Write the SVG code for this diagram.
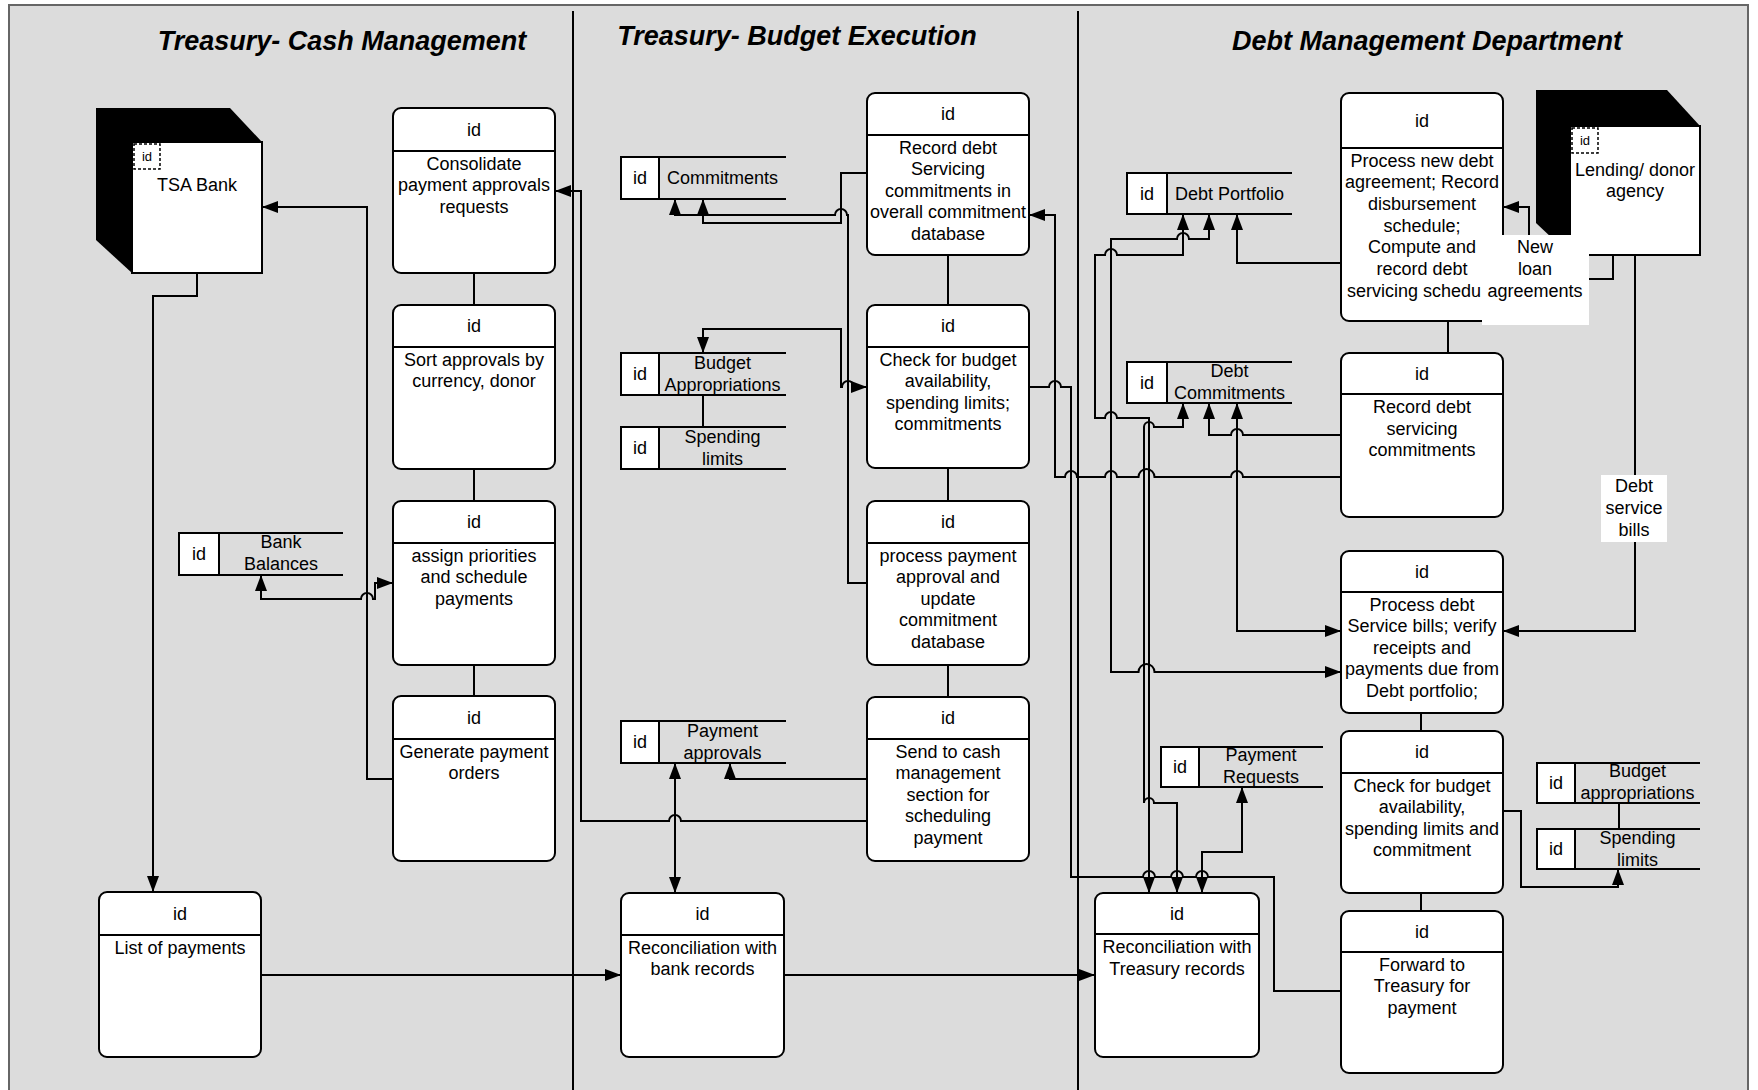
<svg xmlns="http://www.w3.org/2000/svg" width="1758" height="1090" viewBox="0 0 1758 1090">
  <style>
    .bg { fill: #ffffff; }
    .frame { fill: #dcdcdc; stroke: #666666; stroke-width: 2; }
    .lane { stroke: #000; stroke-width: 2; }
    .box { fill: #ffffff; stroke: #000; stroke-width: 2; }
    .ln { fill: none; stroke: #000; stroke-width: 2; }
    .cell { fill: #ffffff; stroke: #000; stroke-width: 2; }
    .ent { fill: #000; }
    .dash { fill: none; stroke: #000; stroke-width: 1.5; stroke-dasharray: 3 2; }
    .conn { fill: none; stroke: #000; stroke-width: 2; }
    .arr { marker-end: url(#ah); }
    .arr2 { marker-start: url(#ah); marker-end: url(#ah); }
    .lbl { fill: #ffffff; }
    text { font-family: "Liberation Sans", Arial, sans-serif; font-size: 18px; fill: #000; text-anchor: middle; }
    .title { font-size: 27px; font-weight: bold; font-style: italic; }
    .small { font-size: 13px; }
  </style>
  <defs>
    <marker id="ah" viewBox="0 0 16 12" refX="16" refY="6" markerWidth="16" markerHeight="12" markerUnits="userSpaceOnUse" orient="auto-start-reverse">
      <path d="M0,0 L16,6 L0,12 z" fill="#000"/>
    </marker>
  </defs>

  <!-- page and swimlanes -->
  <rect class="bg" x="0" y="0" width="1758" height="1090"/>
  <rect class="frame" x="9" y="5" width="1739" height="1095"/>
  <line class="lane" x1="573" y1="11" x2="573" y2="1090"/>
  <line class="lane" x1="1078" y1="11" x2="1078" y2="1090"/>
  <text class="title" x="342" y="50">Treasury- Cash Management</text>
  <text class="title" x="797" y="45">Treasury- Budget Execution</text>
  <text class="title" x="1427" y="50">Debt Management Department</text>

  <!-- external entities -->
  <g id="tsa-bank">
    <polygon class="ent" points="96,108 230,108 262,142 262,273 132,273 96,240"/>
    <rect class="box" x="132" y="142" width="130" height="131"/>
    <rect class="dash" x="134" y="144" width="26" height="25"/>
    <text class="small" x="147" y="161">id</text>
    <text x="197" y="191">TSA Bank</text>
  </g>
  <g id="lending-agency">
    <polygon class="ent" points="1536,90 1667,90 1700,126 1700,255 1570,255 1536,223"/>
    <rect class="box" x="1570" y="126" width="130" height="129"/>
    <rect class="dash" x="1572" y="128" width="26" height="25"/>
    <text class="small" x="1585" y="145">id</text>
    <text x="1635" y="176">Lending/ donor</text>
    <text x="1635" y="197">agency</text>
  </g>

  <!-- cash management processes -->
  <g id="p-consolidate">
    <rect class="box" x="393" y="108" width="162" height="165" rx="8"/>
    <line class="ln" x1="393" y1="151" x2="555" y2="151"/>
    <text x="474" y="135.5">id</text>
    <text x="474" y="169.5">Consolidate<tspan x="474" dy="21.6">payment approvals</tspan><tspan x="474" dy="21.6">requests</tspan></text>
  </g>
  <g id="p-sort">
    <rect class="box" x="393" y="305" width="162" height="164" rx="8"/>
    <line class="ln" x1="393" y1="347" x2="555" y2="347"/>
    <text x="474" y="332">id</text>
    <text x="474" y="365.5">Sort approvals by<tspan x="474" dy="21.6">currency, donor</tspan></text>
  </g>
  <g id="p-assign">
    <rect class="box" x="393" y="501" width="162" height="164" rx="8"/>
    <line class="ln" x1="393" y1="543" x2="555" y2="543"/>
    <text x="474" y="528">id</text>
    <text x="474" y="561.5">assign priorities<tspan x="474" dy="21.6">and schedule</tspan><tspan x="474" dy="21.6">payments</tspan></text>
  </g>
  <g id="p-generate">
    <rect class="box" x="393" y="696" width="162" height="165" rx="8"/>
    <line class="ln" x1="393" y1="739" x2="555" y2="739"/>
    <text x="474" y="723.5">id</text>
    <text x="474" y="757.5">Generate payment<tspan x="474" dy="21.6">orders</tspan></text>
  </g>
  <g id="p-list">
    <rect class="box" x="99" y="892" width="162" height="165" rx="8"/>
    <line class="ln" x1="99" y1="935" x2="261" y2="935"/>
    <text x="180" y="919.5">id</text>
    <text x="180" y="953.5">List of payments</text>
  </g>

  <!-- budget execution processes -->
  <g id="b-record">
    <rect class="box" x="867" y="93" width="162" height="162" rx="8"/>
    <line class="ln" x1="867" y1="135" x2="1029" y2="135"/>
    <text x="948" y="120">id</text>
    <text x="948" y="153.5">Record debt<tspan x="948" dy="21.6">Servicing</tspan><tspan x="948" dy="21.6">commitments in</tspan><tspan x="948" dy="21.6">overall commitment</tspan><tspan x="948" dy="21.6">database</tspan></text>
  </g>
  <g id="b-check">
    <rect class="box" x="867" y="305" width="162" height="163" rx="8"/>
    <line class="ln" x1="867" y1="347" x2="1029" y2="347"/>
    <text x="948" y="332">id</text>
    <text x="948" y="365.5">Check for budget<tspan x="948" dy="21.6">availability,</tspan><tspan x="948" dy="21.6">spending limits;</tspan><tspan x="948" dy="21.6">commitments</tspan></text>
  </g>
  <g id="b-process">
    <rect class="box" x="867" y="501" width="162" height="164" rx="8"/>
    <line class="ln" x1="867" y1="543" x2="1029" y2="543"/>
    <text x="948" y="528">id</text>
    <text x="948" y="561.5">process payment<tspan x="948" dy="21.6">approval and</tspan><tspan x="948" dy="21.6">update</tspan><tspan x="948" dy="21.6">commitment</tspan><tspan x="948" dy="21.6">database</tspan></text>
  </g>
  <g id="b-send">
    <rect class="box" x="867" y="697" width="162" height="164" rx="8"/>
    <line class="ln" x1="867" y1="739" x2="1029" y2="739"/>
    <text x="948" y="724">id</text>
    <text x="948" y="757.5">Send to cash<tspan x="948" dy="21.6">management</tspan><tspan x="948" dy="21.6">section for</tspan><tspan x="948" dy="21.6">scheduling</tspan><tspan x="948" dy="21.6">payment</tspan></text>
  </g>
  <g id="b-reconcile">
    <rect class="box" x="621" y="893" width="163" height="164" rx="8"/>
    <line class="ln" x1="621" y1="935" x2="784" y2="935"/>
    <text x="702.5" y="920">id</text>
    <text x="702.5" y="953.5">Reconciliation with<tspan x="702.5" dy="21.6">bank records</tspan></text>
  </g>

  <!-- debt management processes -->
  <g id="d-new-debt">
    <rect class="box" x="1341" y="93" width="162" height="228" rx="8"/>
    <line class="ln" x1="1341" y1="148" x2="1503" y2="148"/>
    <text x="1422" y="126.5">id</text>
    <text x="1422" y="166.5">Process new debt<tspan x="1422" dy="21.7">agreement; Record</tspan><tspan x="1422" dy="21.7">disbursement</tspan><tspan x="1422" dy="21.7">schedule;</tspan><tspan x="1422" dy="21.7">Compute and</tspan><tspan x="1422" dy="21.7">record debt</tspan></text>
    <text x="1347" y="296.7" style="text-anchor:start">servicing schedu</text>
  </g>
  <g id="d-record">
    <rect class="box" x="1341" y="353" width="162" height="164" rx="8"/>
    <line class="ln" x1="1341" y1="394" x2="1503" y2="394"/>
    <text x="1422" y="379.5">id</text>
    <text x="1422" y="413">Record debt<tspan x="1422" dy="21.6">servicing</tspan><tspan x="1422" dy="21.6">commitments</tspan></text>
  </g>
  <g id="d-bills">
    <rect class="box" x="1341" y="551" width="162" height="162" rx="8"/>
    <line class="ln" x1="1341" y1="592" x2="1503" y2="592"/>
    <text x="1422" y="577.5">id</text>
    <text x="1422" y="610.5">Process debt<tspan x="1422" dy="21.6">Service bills; verify</tspan><tspan x="1422" dy="21.6">receipts and</tspan><tspan x="1422" dy="21.6">payments due from</tspan><tspan x="1422" dy="21.6">Debt portfolio;</tspan></text>
  </g>
  <g id="d-check">
    <rect class="box" x="1341" y="731" width="162" height="162" rx="8"/>
    <line class="ln" x1="1341" y1="773" x2="1503" y2="773"/>
    <text x="1422" y="758">id</text>
    <text x="1422" y="791.5">Check for budget<tspan x="1422" dy="21.6">availability,</tspan><tspan x="1422" dy="21.6">spending limits and</tspan><tspan x="1422" dy="21.6">commitment</tspan></text>
  </g>
  <g id="d-forward">
    <rect class="box" x="1341" y="911" width="162" height="162" rx="8"/>
    <line class="ln" x1="1341" y1="952" x2="1503" y2="952"/>
    <text x="1422" y="937.5">id</text>
    <text x="1422" y="970.5">Forward to<tspan x="1422" dy="21.6">Treasury for</tspan><tspan x="1422" dy="21.6">payment</tspan></text>
  </g>
  <g id="d-reconcile">
    <rect class="box" x="1095" y="893" width="164" height="164" rx="8"/>
    <line class="ln" x1="1095" y1="934" x2="1259" y2="934"/>
    <text x="1177" y="919.5">id</text>
    <text x="1177" y="953">Reconciliation with<tspan x="1177" dy="21.6">Treasury records</tspan></text>
  </g>

  <!-- data stores -->
  <g id="s-commitments">
    <line class="ln" x1="621" y1="157" x2="786" y2="157"/>
    <line class="ln" x1="621" y1="199" x2="786" y2="199"/>
    <rect class="cell" x="621" y="157" width="38" height="42"/>
    <text x="640" y="184">id</text>
    <text x="722.5" y="184">Commitments</text>
  </g>
  <g id="s-budget-appropriations">
    <line class="ln" x1="621" y1="353" x2="786" y2="353"/>
    <line class="ln" x1="621" y1="395" x2="786" y2="395"/>
    <rect class="cell" x="621" y="353" width="38" height="42"/>
    <text x="640" y="380">id</text>
    <text x="722.5" y="369">Budget<tspan x="722.5" dy="21.5">Appropriations</tspan></text>
  </g>
  <g id="s-spending-limits">
    <line class="ln" x1="621" y1="427" x2="786" y2="427"/>
    <line class="ln" x1="621" y1="469" x2="786" y2="469"/>
    <rect class="cell" x="621" y="427" width="38" height="42"/>
    <text x="640" y="454">id</text>
    <text x="722.5" y="443">Spending<tspan x="722.5" dy="21.5">limits</tspan></text>
  </g>
  <g id="s-payment-approvals">
    <line class="ln" x1="621" y1="721" x2="786" y2="721"/>
    <line class="ln" x1="621" y1="763" x2="786" y2="763"/>
    <rect class="cell" x="621" y="721" width="38" height="42"/>
    <text x="640" y="748">id</text>
    <text x="722.5" y="737">Payment<tspan x="722.5" dy="21.5">approvals</tspan></text>
  </g>
  <g id="s-bank-balances">
    <line class="ln" x1="179" y1="533" x2="343" y2="533"/>
    <line class="ln" x1="179" y1="575" x2="343" y2="575"/>
    <rect class="cell" x="179" y="533" width="40" height="42"/>
    <text x="199" y="560">id</text>
    <text x="281" y="548">Bank<tspan x="281" dy="21.5">Balances</tspan></text>
  </g>
  <g id="s-debt-portfolio">
    <line class="ln" x1="1127" y1="173" x2="1292" y2="173"/>
    <line class="ln" x1="1127" y1="214" x2="1292" y2="214"/>
    <rect class="cell" x="1127" y="173" width="40" height="41"/>
    <text x="1147" y="199.5">id</text>
    <text x="1229.5" y="199.5">Debt Portfolio</text>
  </g>
  <g id="s-debt-commitments">
    <line class="ln" x1="1127" y1="362" x2="1292" y2="362"/>
    <line class="ln" x1="1127" y1="403" x2="1292" y2="403"/>
    <rect class="cell" x="1127" y="362" width="40" height="41"/>
    <text x="1147" y="388.5">id</text>
    <text x="1229.5" y="377">Debt<tspan x="1229.5" dy="21.5">Commitments</tspan></text>
  </g>
  <g id="s-payment-requests">
    <line class="ln" x1="1161" y1="747" x2="1323" y2="747"/>
    <line class="ln" x1="1161" y1="787" x2="1323" y2="787"/>
    <rect class="cell" x="1161" y="747" width="38" height="40"/>
    <text x="1180" y="773">id</text>
    <text x="1261" y="761">Payment<tspan x="1261" dy="21.5">Requests</tspan></text>
  </g>
  <g id="s-debt-budget-appropriations">
    <line class="ln" x1="1537" y1="763" x2="1700" y2="763"/>
    <line class="ln" x1="1537" y1="803" x2="1700" y2="803"/>
    <rect class="cell" x="1537" y="763" width="38" height="40"/>
    <text x="1556" y="789">id</text>
    <text x="1637.5" y="777">Budget<tspan x="1637.5" dy="21.5">appropriations</tspan></text>
  </g>
  <g id="s-debt-spending-limits">
    <line class="ln" x1="1537" y1="829" x2="1700" y2="829"/>
    <line class="ln" x1="1537" y1="869" x2="1700" y2="869"/>
    <rect class="cell" x="1537" y="829" width="38" height="40"/>
    <text x="1556" y="855">id</text>
    <text x="1637.5" y="844">Spending<tspan x="1637.5" dy="21.5">limits</tspan></text>
  </g>

  <!-- connectors -->
  <g id="connectors">
    <!-- sequence links between steps -->
    <path class="conn" d="M474,273 V305 M474,469 V501 M474,665 V696"/>
    <path class="conn" d="M948,255 V305 M948,468 V501 M948,665 V697"/>
    <path class="conn" d="M1448,321 V353 M1421,713 V731 M1421,893 V911"/>
    <path class="conn" d="M703,395 V427 M1619,803 V829"/>

    <!-- cash management -->
    <path class="conn arr" d="M197,273 L197,296 L153,296 L153,892"/>
    <path class="conn arr" d="M393,779 L367,779 L367,207 L262,207"/>
    <path class="conn arr2" d="M261,575 L261,599 L361,599 A6,6 0 0 1 373,599 L375,599 L375,583 L393,583"/>
    <path class="conn arr" d="M261,975 L621,975"/>

    <!-- budget execution -->
    <path class="conn arr" d="M867,821 L681,821 A6,6 0 0 0 669,821 L581,821 L581,191 L555,191"/>
    <path class="conn arr2" d="M675,763 L675,893"/>
    <path class="conn arr" d="M867,779 L730,779 L730,763"/>
    <path class="conn arr" d="M784,975 L1095,975"/>
    <path class="conn arr" d="M867,173 L841,173 L841,223 L703,223 L703,199"/>
    <path class="conn arr" d="M867,583 L848,583 L848,215 L847,215 A6,6 0 0 0 835,215 L675,215 L675,199"/>
    <path class="conn arr2" d="M867,387 L854,387 A6,6 0 0 0 842,387 L841,387 L841,329 L703,329 L703,353"/>

    <!-- debt management -->
    <path class="conn" d="M1341,991 L1274,991 L1274,877 L1208,877 A6,6 0 0 0 1196,877 L1183,877 A6,6 0 0 0 1171,877 L1155,877 A6,6 0 0 0 1143,877 L1071,877 L1071,387 L1061,387 A6,6 0 0 0 1049,387 L1029,387"/>
    <path class="conn arr" d="M1341,477 L1243,477 A6,6 0 0 0 1231,477 L1154.5,477 A8,8 0 0 0 1138.5,477 L1117,477 A6,6 0 0 0 1105,477 L1077,477 A6,6 0 0 0 1065,477 L1055,477 L1055,215 L1029,215"/>
    <path class="conn arr2" d="M1209,214 L1209,239 L1189,239 A6,6 0 0 0 1177,239 L1111,239 L1111,672 L1138.5,672 A8,8 0 0 1 1154.5,672 L1341,672"/>
    <path class="conn arr" d="M1341,263 L1237,263 L1237,214"/>
    <path class="conn arr2" d="M1183,214 L1183,255 L1117,255 A6,6 0 0 0 1105,255 L1095,255 L1095,418 L1105,418 A6,6 0 0 1 1117,418 L1149,418 L1149,893"/>
    <path class="conn arr2" d="M1183,403 L1183,427 L1154,427 A5,5 0 0 0 1144,427 L1144,803 A5,5 0 0 1 1154,803 L1177,803 L1177,893"/>
    <path class="conn arr2" d="M1237,403 L1237,631 L1341,631"/>
    <path class="conn arr" d="M1341,435 L1243,435 A6,6 0 0 0 1231,435 L1209,435 L1209,403"/>
    <path class="conn arr2" d="M1242,787 L1242,852 L1202,852 L1202,893"/>
    <path class="conn arr" d="M1503,811 L1521,811 L1521,887 L1618,887 L1618,869"/>
    <path class="conn arr" d="M1613,255 L1613,279 L1529,279 L1529,207 L1503,207"/>
    <path class="conn arr" d="M1635,255 L1635,631 L1503,631"/>

    <!-- flow labels -->
    <rect class="lbl" x="1482" y="235" width="107" height="90"/>
    <text x="1535" y="253">New<tspan x="1535" dy="21.8">loan</tspan><tspan x="1535" dy="21.8">agreements</tspan></text>
    <rect class="lbl" x="1601" y="475" width="66" height="67"/>
    <text x="1634" y="492">Debt<tspan x="1634" dy="22">service</tspan><tspan x="1634" dy="22">bills</tspan></text>
  </g>
</svg>
